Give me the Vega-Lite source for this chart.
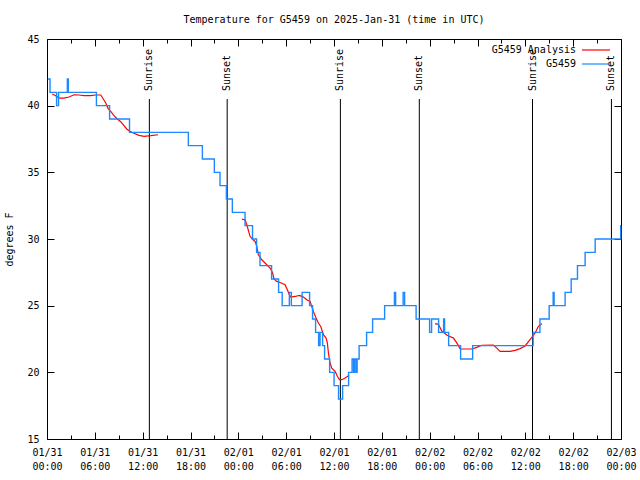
{
  "$schema": "https://vega.github.io/schema/vega-lite/v6.json",
  "width": 574,
  "height": 400,
  "autosize": {"type": "none"},
  "padding": {"left": 47, "top": 39, "right": 19, "bottom": 41},
  "title": {"text": "Temperature for G5459 on 2025-Jan-31 (time in UTC)", "font": "DejaVu Sans Mono", "fontSize": 10, "fontWeight": "normal", "color": "black", "anchor": "middle", "frame": "group", "baseline": "bottom", "offset": 15, "dy": 16},
  "config": {
    "view": {"stroke": "black", "strokeWidth": 1},
    "axis": {"domain": false, "grid": false, "tickColor": "black", "tickWidth": 1, "labelColor": "black", "labelFont": "DejaVu Sans Mono", "labelFontSize": 10, "titleFont": "DejaVu Sans Mono", "titleFontSize": 10, "titleFontWeight": "normal", "titleColor": "black", "labelOverlap": false, "labelFlush": false}
  },
  "datasets": {
    "obs": [
      {"hour": 0.1, "temp": 42}, {"hour": 0.38, "temp": 41}, {"hour": 1.2, "temp": 40}, {"hour": 1.45, "temp": 41},
      {"hour": 2.55, "temp": 42}, {"hour": 2.67, "temp": 41}, {"hour": 6.2, "temp": 40}, {"hour": 7.85, "temp": 39},
      {"hour": 10.35, "temp": 38}, {"hour": 17.73, "temp": 37}, {"hour": 19.49, "temp": 36}, {"hour": 20.99, "temp": 35},
      {"hour": 21.7, "temp": 34}, {"hour": 22.5, "temp": 33}, {"hour": 23.25, "temp": 32}, {"hour": 24.84, "temp": 31},
      {"hour": 25.78, "temp": 30}, {"hour": 26.29, "temp": 29}, {"hour": 26.72, "temp": 28}, {"hour": 28.17, "temp": 27},
      {"hour": 29.05, "temp": 26}, {"hour": 29.5, "temp": 25}, {"hour": 30.4, "temp": 26}, {"hour": 30.65, "temp": 25},
      {"hour": 32.0, "temp": 26}, {"hour": 32.94, "temp": 25}, {"hour": 33.31, "temp": 24}, {"hour": 33.69, "temp": 23},
      {"hour": 34.07, "temp": 22}, {"hour": 34.25, "temp": 23}, {"hour": 34.57, "temp": 22}, {"hour": 34.82, "temp": 21},
      {"hour": 35.45, "temp": 20}, {"hour": 36.01, "temp": 19}, {"hour": 36.57, "temp": 18}, {"hour": 37.08, "temp": 19},
      {"hour": 37.83, "temp": 20}, {"hour": 38.27, "temp": 21}, {"hour": 38.46, "temp": 20}, {"hour": 38.58, "temp": 21},
      {"hour": 38.77, "temp": 20}, {"hour": 38.9, "temp": 21}, {"hour": 39.15, "temp": 22}, {"hour": 40.09, "temp": 23},
      {"hour": 40.84, "temp": 24}, {"hour": 42.35, "temp": 25}, {"hour": 43.58, "temp": 26}, {"hour": 43.73, "temp": 25},
      {"hour": 44.67, "temp": 26}, {"hour": 44.86, "temp": 25}, {"hour": 46.3, "temp": 24}, {"hour": 47.99, "temp": 23},
      {"hour": 48.24, "temp": 24}, {"hour": 49.12, "temp": 23}, {"hour": 49.75, "temp": 24}, {"hour": 49.87, "temp": 23},
      {"hour": 50.38, "temp": 22}, {"hour": 51.88, "temp": 21}, {"hour": 53.39, "temp": 22}, {"hour": 60.98, "temp": 23},
      {"hour": 61.83, "temp": 24}, {"hour": 62.99, "temp": 25}, {"hour": 63.49, "temp": 26}, {"hour": 63.61, "temp": 25},
      {"hour": 64.99, "temp": 26}, {"hour": 65.75, "temp": 27}, {"hour": 66.54, "temp": 28}, {"hour": 67.5, "temp": 29},
      {"hour": 68.76, "temp": 30}, {"hour": 71.96, "temp": 31}, {"hour": 72, "temp": 31}
    ],
    "analysis": [
      {"seg": 1, "hour": 0.66, "temp": 40.87}, {"seg": 1, "hour": 1.09, "temp": 40.75}, {"seg": 1, "hour": 1.51, "temp": 40.57},
      {"seg": 1, "hour": 2.13, "temp": 40.57}, {"seg": 1, "hour": 2.76, "temp": 40.65}, {"seg": 1, "hour": 3.39, "temp": 40.82},
      {"seg": 1, "hour": 4.02, "temp": 40.8}, {"seg": 1, "hour": 4.64, "temp": 40.75}, {"seg": 1, "hour": 5.48, "temp": 40.75},
      {"seg": 1, "hour": 6.11, "temp": 40.8}, {"seg": 1, "hour": 6.74, "temp": 40.8}, {"seg": 1, "hour": 7.06, "temp": 40.5},
      {"seg": 1, "hour": 7.37, "temp": 40.2}, {"seg": 1, "hour": 7.65, "temp": 39.8}, {"seg": 1, "hour": 7.99, "temp": 39.57},
      {"seg": 1, "hour": 8.41, "temp": 39.25}, {"seg": 1, "hour": 8.82, "temp": 39.0}, {"seg": 1, "hour": 9.25, "temp": 38.8},
      {"seg": 1, "hour": 9.66, "temp": 38.5}, {"seg": 1, "hour": 10.0, "temp": 38.25}, {"seg": 1, "hour": 10.41, "temp": 38.07},
      {"seg": 1, "hour": 10.83, "temp": 37.95}, {"seg": 1, "hour": 11.54, "temp": 37.77}, {"seg": 1, "hour": 12.17, "temp": 37.7},
      {"seg": 1, "hour": 13.01, "temp": 37.75}, {"seg": 1, "hour": 13.93, "temp": 37.82},
      {"seg": 2, "hour": 24.43, "temp": 31.5}, {"seg": 2, "hour": 24.84, "temp": 31.44}, {"seg": 2, "hour": 25.06, "temp": 31.07},
      {"seg": 2, "hour": 25.47, "temp": 30.2}, {"seg": 2, "hour": 25.81, "temp": 29.95}, {"seg": 2, "hour": 26.1, "temp": 29.82},
      {"seg": 2, "hour": 26.31, "temp": 29.45}, {"seg": 2, "hour": 26.51, "temp": 28.82}, {"seg": 2, "hour": 26.94, "temp": 28.44},
      {"seg": 2, "hour": 27.57, "temp": 28.07}, {"seg": 2, "hour": 27.98, "temp": 27.82}, {"seg": 2, "hour": 28.27, "temp": 27.5},
      {"seg": 2, "hour": 28.48, "temp": 27.0}, {"seg": 2, "hour": 28.82, "temp": 26.82}, {"seg": 2, "hour": 29.23, "temp": 26.74},
      {"seg": 2, "hour": 29.86, "temp": 26.57}, {"seg": 2, "hour": 30.15, "temp": 26.2}, {"seg": 2, "hour": 30.4, "temp": 25.82},
      {"seg": 2, "hour": 30.61, "temp": 25.64}, {"seg": 2, "hour": 31.12, "temp": 25.69}, {"seg": 2, "hour": 31.66, "temp": 25.77},
      {"seg": 2, "hour": 32.16, "temp": 25.64}, {"seg": 2, "hour": 32.58, "temp": 25.44}, {"seg": 2, "hour": 33.0, "temp": 25.32},
      {"seg": 2, "hour": 33.21, "temp": 24.94}, {"seg": 2, "hour": 33.41, "temp": 24.57}, {"seg": 2, "hour": 33.75, "temp": 24.07},
      {"seg": 2, "hour": 34.04, "temp": 23.7}, {"seg": 2, "hour": 34.34, "temp": 23.44}, {"seg": 2, "hour": 34.67, "temp": 22.82},
      {"seg": 2, "hour": 35.01, "temp": 22.57}, {"seg": 2, "hour": 35.17, "temp": 22.2}, {"seg": 2, "hour": 35.3, "temp": 21.45},
      {"seg": 2, "hour": 35.51, "temp": 20.7}, {"seg": 2, "hour": 35.72, "temp": 20.32}, {"seg": 2, "hour": 36.14, "temp": 20.07},
      {"seg": 2, "hour": 36.42, "temp": 19.7}, {"seg": 2, "hour": 36.68, "temp": 19.45}, {"seg": 2, "hour": 36.98, "temp": 19.45},
      {"seg": 2, "hour": 37.39, "temp": 19.57}, {"seg": 2, "hour": 37.8, "temp": 19.74}, {"seg": 2, "hour": 37.93, "temp": 19.74},
      {"seg": 3, "hour": 48.68, "temp": 23.65}, {"seg": 3, "hour": 49.1, "temp": 23.6}, {"seg": 3, "hour": 49.52, "temp": 23.1},
      {"seg": 3, "hour": 50.15, "temp": 22.8}, {"seg": 3, "hour": 50.56, "temp": 22.68}, {"seg": 3, "hour": 50.98, "temp": 22.57},
      {"seg": 3, "hour": 51.32, "temp": 22.28}, {"seg": 3, "hour": 51.61, "temp": 22.0}, {"seg": 3, "hour": 51.82, "temp": 21.75},
      {"seg": 3, "hour": 53.29, "temp": 21.75}, {"seg": 3, "hour": 53.92, "temp": 21.87}, {"seg": 3, "hour": 54.54, "temp": 22.03},
      {"seg": 3, "hour": 56.0, "temp": 22.05}, {"seg": 3, "hour": 56.42, "temp": 21.82}, {"seg": 3, "hour": 56.84, "temp": 21.57},
      {"seg": 3, "hour": 58.09, "temp": 21.57}, {"seg": 3, "hour": 58.72, "temp": 21.65}, {"seg": 3, "hour": 59.35, "temp": 21.78},
      {"seg": 3, "hour": 59.97, "temp": 21.98}, {"seg": 3, "hour": 60.39, "temp": 22.3}, {"seg": 3, "hour": 60.82, "temp": 22.62},
      {"seg": 3, "hour": 61.23, "temp": 22.95}, {"seg": 3, "hour": 61.64, "temp": 23.45}, {"seg": 3, "hour": 62.07, "temp": 23.65}
    ],
    "events": [
      {"hour": 12.84, "event": "Sunrise"}, {"hour": 22.6, "event": "Sunset"},
      {"hour": 36.8, "event": "Sunrise"}, {"hour": 46.7, "event": "Sunset"},
      {"hour": 60.9, "event": "Sunrise"}, {"hour": 70.8, "event": "Sunset"}
    ]
  },
  "resolve": {"axis": {"x": "independent", "y": "independent"}},
  "layer": [
    {
      "data": {"name": "events"},
      "mark": {"type": "rule", "color": "black", "strokeWidth": 1},
      "encoding": {
        "x": {"field": "hour", "type": "quantitative", "scale": {"domain": [0, 72], "nice": false, "zero": false},
              "axis": {"orient": "bottom", "values": [3, 9, 15, 21, 27, 33, 39, 45, 51, 57, 63, 69], "tickSize": -4, "labels": false, "title": null}},
        "y": {"datum": 40.5, "type": "quantitative", "scale": {"domain": [15, 45], "nice": false, "zero": false}, "axis": null},
        "y2": {"datum": 15}
      }
    },
    {
      "data": {"name": "events"},
      "mark": {"type": "text", "angle": 270, "align": "left", "baseline": "middle", "font": "DejaVu Sans Mono", "fontSize": 10, "color": "black"},
      "encoding": {
        "x": {"field": "hour", "type": "quantitative",
              "axis": {"orient": "top", "values": [3, 9, 15, 21, 27, 33, 39, 45, 51, 57, 63, 69], "tickSize": -4, "labels": false, "title": null}},
        "y": {"datum": 41.1, "type": "quantitative", "axis": null},
        "text": {"field": "event"}
      }
    },
    {
      "data": {"name": "analysis"},
      "mark": {"type": "line", "strokeWidth": 1.2, "interpolate": "linear"},
      "encoding": {
        "x": {"field": "hour", "type": "quantitative",
              "axis": {"orient": "top", "values": [0, 6, 12, 18, 24, 30, 36, 42, 48, 54, 60, 66, 72], "tickSize": -7, "labels": false, "title": null}},
        "y": {"field": "temp", "type": "quantitative",
              "axis": {"orient": "right", "values": [15, 20, 25, 30, 35, 40, 45], "tickSize": -7, "labels": false, "title": null}},
        "detail": {"field": "seg"},
        "color": {"datum": "G5459 Analysis"}
      }
    },
    {
      "data": {"name": "obs"},
      "mark": {"type": "line", "strokeWidth": 1.4, "interpolate": "step-after"},
      "encoding": {
        "x": {"field": "hour", "type": "quantitative",
              "axis": {"orient": "bottom", "values": [0, 6, 12, 18, 24, 30, 36, 42, 48, 54, 60, 66, 72], "tickSize": -7, "labelPadding": 15, "labelLineHeight": 14, "title": null,
                       "labelExpr": "[['01/31','02/01','02/02','02/03'][floor(datum.value/24)], (datum.value % 24 < 10 ? '0' : '') + (datum.value % 24) + ':00']"}},
        "y": {"field": "temp", "type": "quantitative",
              "axis": {"orient": "left", "values": [15, 20, 25, 30, 35, 40, 45], "tickSize": -7, "labelPadding": 15, "title": "degrees F", "titlePadding": 12}},
        "color": {"datum": "G5459", "type": "nominal",
                  "scale": {"domain": ["G5459 Analysis", "G5459"], "range": ["#ff0000", "#1e88ff"]},
                  "legend": {"title": null, "orient": "none", "legendX": 541, "legendY": 3, "padding": 0, "symbolType": "M-2,0H2", "symbolSize": 196, "symbolStrokeWidth": 1.2,
                             "labelAlign": "right", "labelOffset": -28, "labelFont": "DejaVu Sans Mono", "labelFontSize": 10, "labelColor": "black", "rowPadding": 1}}
      }
    }
  ]
}
